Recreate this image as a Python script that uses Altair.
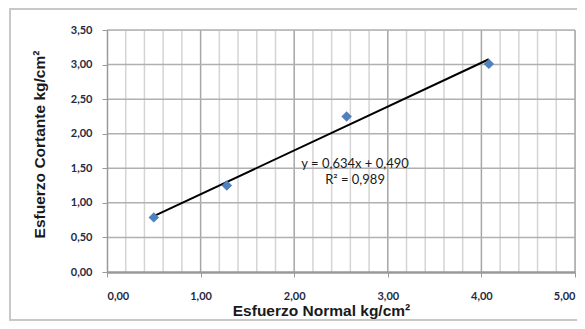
import altair as alt
import pandas as pd

normal = [0.50, 1.28, 2.56, 4.08]
cortante = [0.79, 1.25, 2.25, 3.01]
eq_lines = ["y = 0,634x + 0,490", "R² = 0,989"]
eq_x = [2.65, 2.65]
eq_y = [1.56, 1.325]

df = pd.DataFrame({"x": normal, "y": cortante})
eq = pd.DataFrame({"x": eq_x, "y": eq_y, "t": eq_lines})

W, H = 468, 242
FONT = "Lato"
lab = "replace(format(datum.value, '.2f'), '.', ',')"

xs = alt.Scale(domain=[0, 5], nice=False, zero=True)
ys = alt.Scale(domain=[0, 3.5], nice=False, zero=True)

xaxis = alt.Axis(title="Esfuerzo Normal kg/cm²", values=[0, 1, 2, 3, 4, 5],
                 labelExpr=lab, grid=False, domainColor="#999999",
                 domainWidth=2.5, tickColor="#999999", tickSize=5,
                 labelPadding=13, titlePadding=2, labelFont=FONT,
                 labelFontSize=11, labelFontWeight="bold",
                 labelColor="#1f2a44", titleFont="Liberation Sans",
                 titleFontSize=15.5, titleFontWeight="bold",
                 titleColor="#1a1a1a", titleX=W / 2 - 20, zindex=1)
yaxis = alt.Axis(title="Esfuerzo Cortante kg/cm²",
                 values=[0, 0.5, 1, 1.5, 2, 2.5, 3, 3.5],
                 labelExpr=lab, grid=False, domainColor="#999999",
                 domainWidth=1.5, tickColor="#999999", tickSize=5,
                 labelPadding=10, titlePadding=23, labelFont=FONT,
                 labelFontSize=11, labelFontWeight="bold",
                 labelColor="#1f2a44", titleFont="Liberation Sans",
                 titleFontSize=15.5, titleFontWeight="bold",
                 titleColor="#1a1a1a", titleY=H / 2 - 7, zindex=1)

minor = pd.DataFrame({"v": [i * 0.2 for i in range(1, 25) if i % 5 != 0]})
major = pd.DataFrame({"v": [1, 2, 3, 4, 5]})
hgrid = pd.DataFrame({"v": [0.5, 1, 1.5, 2, 2.5, 3, 3.5]})

border = alt.Chart(pd.DataFrame({"a": [0]})).mark_rect(
    filled=False, stroke="#c8c8c8", strokeWidth=2).encode(
    x=alt.value(-97), x2=alt.value(W + 30), y=alt.value(-21), y2=alt.value(H + 48))

vminor = alt.Chart(minor).mark_rule(color="#d4d4d4", strokeWidth=1.5).encode(
    x=alt.X("v:Q", scale=xs, axis=xaxis))
vmajor = alt.Chart(major).mark_rule(color="#a6a6a6", strokeWidth=1.5).encode(
    x=alt.X("v:Q", scale=xs, axis=xaxis))
hg = alt.Chart(hgrid).mark_rule(color="#b0b0b0", strokeWidth=1.5).encode(
    y=alt.Y("v:Q", scale=ys, axis=yaxis))

trend = alt.Chart(df).transform_regression("x", "y", method="linear").mark_line(
    color="black", strokeWidth=2).encode(
    x=alt.X("x:Q", scale=xs, axis=xaxis), y=alt.Y("y:Q", scale=ys, axis=yaxis))

pts = alt.Chart(df).mark_point(shape="diamond", filled=True, size=110,
                                 color="#4f81bd", opacity=1).encode(
    x=alt.X("x:Q", scale=xs, axis=xaxis),
    y=alt.Y("y:Q", scale=ys, axis=yaxis))

txt = alt.Chart(eq).mark_text(font=FONT, fontSize=13, color="#1a1a1a").encode(
    x=alt.X("x:Q", scale=xs, axis=xaxis), y=alt.Y("y:Q", scale=ys, axis=yaxis),
    text="t:N")

chart = alt.layer(border, vminor, vmajor, hg, trend, pts, txt).properties(
    width=W, height=H,
    autosize=alt.AutoSizeParams(type="none"),
    padding={"left": 99, "top": 22, "right": 2, "bottom": 49},
).configure_view(stroke=None).configure(background="white")

chart.save("out.html", embed_options={"renderer": "svg", "actions": False})
